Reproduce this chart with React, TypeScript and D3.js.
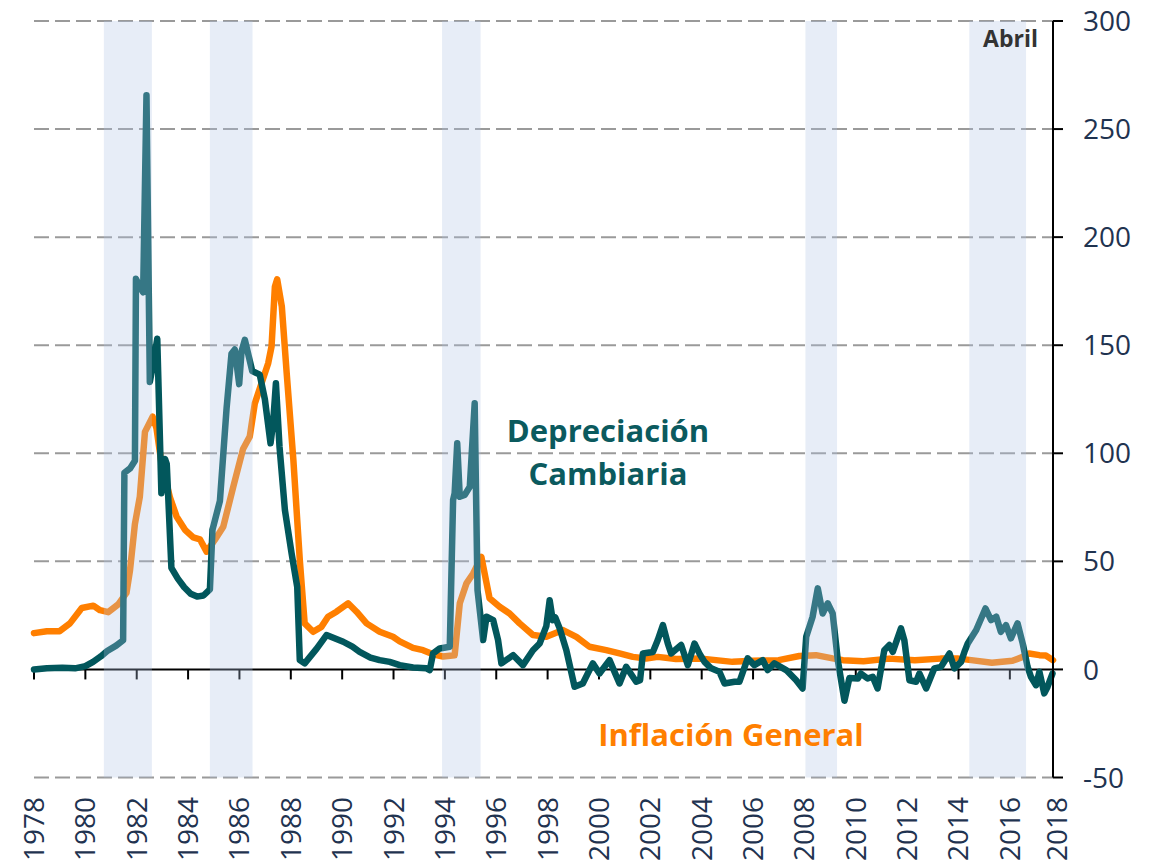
import React from "react";
import * as d3 from "d3";

// ---- Data (decimal year, % annual) ----
const depreciacion: [number, number][] = [
  [1978.0, 0], [1978.5, 0.5], [1979.1, 0.8], [1979.6, 0.5], [1980.0, 1.5], [1980.3, 3.5],
  [1980.6, 6], [1980.85, 8.5], [1981.2, 11], [1981.47, 13.5], [1981.52, 91], [1981.74, 93],
  [1981.93, 96.5], [1981.97, 180.7], [1982.12, 177], [1982.25, 174.5], [1982.38, 265.7],
  [1982.51, 133], [1982.62, 140], [1982.8, 153], [1982.96, 81.5], [1983.1, 97.4], [1983.17, 95],
  [1983.35, 47], [1983.6, 42], [1983.85, 38], [1984.1, 35], [1984.35, 33.7], [1984.6, 34.2],
  [1984.85, 37], [1984.95, 64.6], [1985.24, 78], [1985.5, 121], [1985.69, 146], [1985.82, 148],
  [1985.99, 132], [1986.08, 147], [1986.21, 152.5], [1986.3, 148], [1986.5, 138], [1986.79, 136.4],
  [1986.99, 125], [1987.21, 104.6], [1987.31, 113.9], [1987.42, 132.4], [1987.56, 103],
  [1987.77, 73.8], [1988.03, 53.7], [1988.25, 38.2], [1988.35, 4.3], [1988.54, 2.8], [1989.0, 9.5],
  [1989.39, 15.9], [1990.04, 12.8], [1990.4, 10.5], [1990.68, 8.1], [1991.1, 5.5], [1991.46, 4.3],
  [1991.85, 3.5], [1992.24, 2], [1992.76, 0.9], [1993.28, 0.5], [1993.41, -0.3], [1993.54, 7.4],
  [1993.8, 9.7], [1994.19, 10.5], [1994.32, 78.4], [1994.38, 81.5], [1994.48, 104.6],
  [1994.58, 79.9], [1994.77, 80.7], [1994.97, 84.5], [1995.16, 123.1], [1995.27, 36.7],
  [1995.49, 13.6], [1995.62, 24.4], [1995.88, 22.8], [1996.07, 13.6], [1996.2, 2.8],
  [1996.66, 6.6], [1997.04, 2], [1997.43, 8.9], [1997.69, 12], [1997.95, 20], [1998.08, 32],
  [1998.2, 22.8], [1998.3, 24], [1998.47, 19], [1998.73, 8.9], [1999.05, -8], [1999.37, -6.5],
  [1999.76, 2.8], [2000.02, -1.9], [2000.41, 4.3], [2000.8, -6.5], [2001.06, 1.2], [2001.45, -5.7],
  [2001.6, -5], [2001.71, 7.4], [2002.1, 8.1], [2002.29, 13.6], [2002.49, 20.5], [2002.68, 12],
  [2002.81, 7.4], [2003.2, 11.3], [2003.46, 2], [2003.72, 12], [2003.91, 7.4], [2004.11, 3.5],
  [2004.37, 0.5], [2004.69, -1.1], [2004.89, -6.5], [2005.28, -5.7], [2005.47, -5.7],
  [2005.79, 5.1], [2006.05, 2], [2006.38, 4.3], [2006.57, -0.3], [2006.83, 2.8], [2007.29, -0.3],
  [2007.68, -5], [2007.93, -8.8], [2008.07, 15.1], [2008.32, 24.4], [2008.52, 37.5],
  [2008.71, 25.9], [2008.91, 30.6], [2009.1, 25.9], [2009.3, 4.3], [2009.56, -14.5],
  [2009.75, -4], [2010.08, -4.2], [2010.2, -1.9], [2010.46, -4.2], [2010.66, -3.4],
  [2010.85, -8.8], [2011.11, 8.9], [2011.31, 11.3], [2011.44, 8.1], [2011.76, 19], [2011.89, 13.6],
  [2012.09, -5], [2012.35, -5.7], [2012.48, -1.9], [2012.74, -8.8], [2013.06, 0.5], [2013.32, 1.2],
  [2013.65, 7.4], [2013.84, 0.5], [2014.1, 3.5], [2014.23, 8.1], [2014.36, 12], [2014.69, 18.2],
  [2015.05, 28.2], [2015.27, 22.8], [2015.47, 24.4], [2015.65, 17.4], [2015.85, 20.5],
  [2016.04, 14.4], [2016.3, 21.3], [2016.5, 12], [2016.69, 1.2], [2016.82, -3.4], [2017.02, -7.3],
  [2017.15, -1.1], [2017.34, -11.1], [2017.47, -8], [2017.66, -1.9],
];

const inflacion: [number, number][] = [
  [1978.0, 16.8], [1978.5, 17.7], [1979.0, 17.7], [1979.4, 21.3], [1979.86, 28.4], [1980.31, 29.5],
  [1980.57, 27.4], [1980.89, 26.5], [1981.28, 30.1], [1981.6, 35.4], [1981.74, 46], [1981.93, 67.3],
  [1982.12, 79.8], [1982.32, 109.9], [1982.62, 116.9], [1982.77, 111.6], [1982.96, 95.6],
  [1983.29, 79.8], [1983.55, 70.8], [1983.88, 64.6], [1984.2, 61.1], [1984.46, 60.2],
  [1984.72, 54.5], [1985.04, 59.9], [1985.37, 66], [1985.76, 84.5], [1986.14, 102],
  [1986.4, 107.7], [1986.6, 123.1], [1986.86, 132.4], [1987.12, 141.7], [1987.25, 149.4],
  [1987.38, 177.1], [1987.47, 180.5], [1987.65, 167.9], [1987.84, 137], [1988.1, 96.9],
  [1988.35, 50.6], [1988.54, 21.3], [1988.87, 17.4], [1989.19, 19.7], [1989.45, 24.4],
  [1989.78, 26.7], [1990.23, 30.6], [1990.56, 26.7], [1990.95, 21.3], [1991.46, 17.4],
  [1991.98, 15.1], [1992.24, 13], [1992.76, 10], [1993.15, 8.9], [1993.54, 7], [1993.93, 6],
  [1994.38, 6.6], [1994.58, 30.6], [1994.84, 39.8], [1995.1, 44.4], [1995.42, 52.1],
  [1995.74, 32.9], [1996.13, 29], [1996.52, 25.9], [1996.91, 21.3], [1997.43, 15.9],
  [1997.95, 15.1], [1998.6, 18.2], [1999.12, 15.1], [1999.63, 10.5], [2000.28, 8.9],
  [2000.8, 7.4], [2001.32, 5.8], [2001.84, 5.1], [2002.29, 5.8], [2003.0, 4.8], [2004.0, 5],
  [2005.2, 3.5], [2006.0, 4], [2007.0, 4.3], [2007.8, 6.2], [2008.45, 6.6], [2009.1, 5.1],
  [2009.5, 4.3], [2010.3, 3.8], [2011.3, 5], [2012.3, 4.3], [2013.3, 5], [2014.0, 5],
  [2014.5, 4.3], [2015.3, 3.1], [2016.1, 4], [2016.5, 5.8], [2016.75, 7.4], [2017.15, 6.6],
  [2017.4, 6.4], [2017.68, 4.3],
];

const bandas: [number, number][] = [
  [1980.72, 1982.59], [1984.85, 1986.51], [1993.89, 1995.39], [2008.04, 2009.27], [2014.42, 2016.63],
];

const tickYears: number[] = [1978, 1980, 1982, 1984, 1986, 1988, 1990, 1992, 1994, 1996, 1998,
  2000, 2002, 2004, 2006, 2008, 2010, 2012, 2014, 2016];
const lastLabel = "2018";
const yTicks: number[] = [-50, 0, 50, 100, 150, 200, 250, 300];

const W = 1158;
const H = 862;
const X0 = 34;
const X1 = 1053;
const xEnd = 2017.68;

export default function App() {
  const x = d3.scaleLinear().domain([1978, xEnd]).range([X0, X1]);
  const y = d3.scaleLinear().domain([-50, 300]).range([777.5, 21]);
  const line = d3
    .line<[number, number]>()
    .x((d) => x(d[0]))
    .y((d) => y(d[1]))
    .curve(d3.curveLinear);

  const navy = "#1F3350";
  const numFont = "'Open Sans', 'Liberation Sans', sans-serif";

  return (
    <svg
      width={W}
      height={H}
      style={{ position: "absolute", left: 0, top: 0, display: "block", background: "#fff" }}
    >
      {/* gridlines */}
      {yTicks
        .filter((t) => t !== 0)
        .map((t) => (
          <line
            key={"g" + t}
            x1={X0}
            x2={X1}
            y1={y(t)}
            y2={y(t)}
            stroke="#9A9A9A"
            strokeWidth={2}
            strokeDasharray="15,6"
          />
        ))}
      {/* x axis at zero */}
      <line x1={X0} x2={X1} y1={y(0)} y2={y(0)} stroke="#000" strokeWidth={2} />
      {tickYears.map((t) => (
        <line key={"t" + t} x1={x(t)} x2={x(t)} y1={y(0)} y2={y(0) + 10} stroke="#000" strokeWidth={2} />
      ))}
      {/* series */}
      <path
        d={line(inflacion) || ""}
        fill="none"
        stroke="#FF7F00"
        strokeWidth={6.5}
        strokeLinejoin="round"
        strokeLinecap="round"
      />
      <path
        d={line(depreciacion) || ""}
        fill="none"
        stroke="#02575C"
        strokeWidth={6.5}
        strokeLinejoin="round"
        strokeLinecap="round"
      />
      {/* shaded bands (over lines) */}
      {bandas.map(([a, b], i) => (
        <rect
          key={"b" + i}
          x={x(a)}
          y={y(300)}
          width={x(b) - x(a)}
          height={y(-50) - y(300)}
          fill="#AFC3E3"
          fillOpacity={0.3}
        />
      ))}
      {/* right axis */}
      <line x1={X1} x2={X1} y1={y(300)} y2={y(-50)} stroke="#000" strokeWidth={2} />
      {yTicks.map((t) => (
        <g key={"y" + t}>
          <line x1={X1} x2={X1 + 10} y1={y(t)} y2={y(t)} stroke="#000" strokeWidth={2} />
          <text
            x={1083}
            y={y(t)}
            dy="0.36em"
            fontFamily={numFont}
            fontSize={28}
            fill={navy}
          >
            {t}
          </text>
        </g>
      ))}
      {/* x labels */}
      {tickYears.map((t) => (
        <text
          key={"xl" + t}
          transform={`translate(${x(t) + 10},797) rotate(-90)`}
          textAnchor="end"
          fontFamily={numFont}
          fontSize={28}
          fill={navy}
        >
          {t}
        </text>
      ))}
      <text
        transform={`translate(${X1 + 14},797) rotate(-90)`}
        textAnchor="end"
        fontFamily={numFont}
        fontSize={28}
        fill={navy}
      >
        {lastLabel}
      </text>
      {/* annotations */}
      <text
        x={1038}
        y={47}
        textAnchor="end"
        fontFamily="'Open Sans', sans-serif"
        fontWeight="bold"
        fontSize={23}
        fill="#333"
      >
        Abril
      </text>
      <text
        x={608}
        y={442}
        textAnchor="middle"
        fontFamily="'Open Sans', sans-serif"
        fontWeight="bold"
        fontSize={31}
        fill="#0B5A5E"
      >
        Depreciación
      </text>
      <text
        x={608}
        y={485}
        textAnchor="middle"
        fontFamily="'Open Sans', sans-serif"
        fontWeight="bold"
        fontSize={31}
        fill="#0B5A5E"
      >
        Cambiaria
      </text>
      <text
        x={731}
        y={746}
        textAnchor="middle"
        fontFamily="'Open Sans', sans-serif"
        fontWeight="bold"
        fontSize={31}
        fill="#FF7F00"
      >
        Inflación General
      </text>
    </svg>
  );
}
